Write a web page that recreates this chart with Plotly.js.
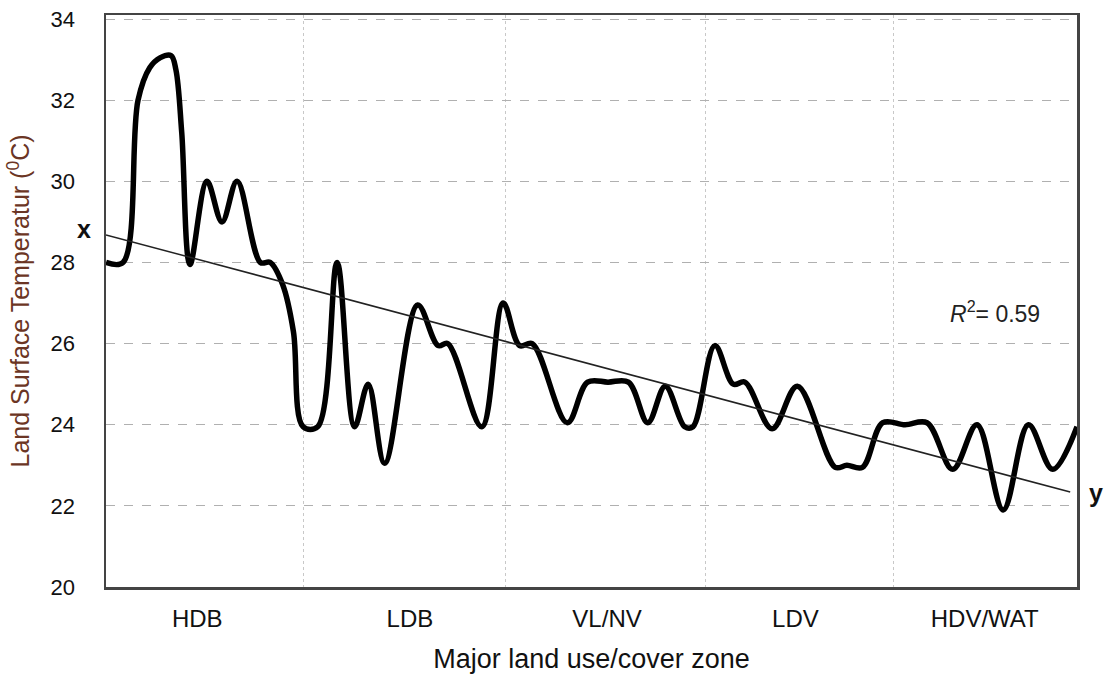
<!DOCTYPE html>
<html>
<head>
<meta charset="utf-8">
<script src="https://cdn.plot.ly/plotly-3.0.1.min.js"></script>
<style>html,body{margin:0;padding:0;background:#fff;}#chart{width:1105px;height:676px;}</style>
</head>
<body>
<div id="chart"></div>
<script>
// Position along the transect (0-100) and land surface temperature (°C)
const position = [0.0, 1.75, 3.3, 4.5, 5.6, 6.7, 7.2, 7.8, 8.65, 10.4, 11.95, 13.5, 15.9, 16.9, 18.2, 19.3, 20.3, 21.8, 23.8, 25.6, 27.0, 28.7, 32.1, 34.2, 35.2, 38.7, 40.9, 42.6, 43.9, 47.5, 49.6, 51.7, 53.8, 55.8, 57.6, 59.6, 60.45, 62.7, 64.6, 65.8, 68.6, 71.2, 75.1, 76.3, 77.9, 80.0, 82.3, 84.55, 87.2, 89.7, 92.4, 95.0, 97.5, 100.0];
const temperature = [28.0, 28.0, 32.0, 32.8, 33.05, 33.1, 32.75, 31.2, 27.95, 30.0, 29.0, 30.0, 28.0, 28.0, 27.45, 26.3, 23.95, 23.95, 28.0, 23.95, 25.0, 23.05, 26.95, 25.95, 26.0, 23.95, 27.0, 25.95, 26.0, 24.05, 25.05, 25.05, 25.05, 24.05, 24.95, 23.95, 23.95, 25.95, 25.0, 25.05, 23.9, 24.95, 22.95, 23.0, 22.95, 24.05, 24.0, 24.05, 22.9, 24.0, 21.9, 24.0, 22.9, 23.95];
// Linear trend (R² = 0.59)
const trendX = [0, 99.3];
const trendY = [28.68, 22.34];
// Zones
const zoneLabels = ['HDB', 'LDB', 'VL/NV', 'LDV', 'HDV/WAT'];
const zoneCenters = [9.4, 31.3, 51.6, 71.0, 90.5];
const zoneBounds = [20.3, 41.1, 61.7, 81.1];
const yTicks = [20, 22, 24, 26, 28, 30, 32, 34];

const font = 'Liberation Sans, Arial, sans-serif';

const traces = [
  {x: position, y: temperature, type: 'scatter', mode: 'lines',
   line: {color: '#000', width: 5.5, shape: 'spline', smoothing: 1}, hoverinfo: 'skip'},
  {x: trendX, y: trendY, type: 'scatter', mode: 'lines',
   line: {color: '#222', width: 1.5}, hoverinfo: 'skip'}
];

const layout = {
  width: 1105, height: 676,
  margin: {l: 106, r: 28, t: 15, b: 89},
  paper_bgcolor: '#fff', plot_bgcolor: '#fff',
  showlegend: false,
  font: {family: font, color: '#111', size: 20},
  xaxis: {
    range: [0, 100], fixedrange: true,
    tickmode: 'array', tickvals: zoneCenters, ticktext: zoneLabels,
    ticks: '', showgrid: false, zeroline: false,
    showline: true, mirror: true, linecolor: '#444', linewidth: 2.5,
    ticklabelstandoff: 9,
    tickfont: {family: font, size: 24, color: '#111'},
    minor: {tickmode: 'array', tickvals: zoneBounds, showgrid: true, griddash: 'dot', gridcolor: '#c8c8c8', gridwidth: 1, ticks: ''},
    title: {text: 'Major land use/cover zone', font: {family: font, size: 27, color: '#111'}, standoff: 18}
  },
  yaxis: {
    range: [20, 34.1], fixedrange: true,
    tickmode: 'array', tickvals: yTicks,
    ticks: '', showgrid: true, griddash: 'dash', gridcolor: '#b0b0b0', gridwidth: 1,
    zeroline: false,
    showline: true, mirror: true, linecolor: '#444', linewidth: 2.5,
    ticklabelstandoff: 24,
    tickfont: {family: font, size: 22, color: '#111'},
    title: {text: 'Land Surface Temperatur (<sup>0</sup>C)', font: {family: font, size: 25, color: '#6b3524'}, standoff: 14}
  },
  annotations: [
    {x: -0.0227, y: 0.626, xref: 'paper', yref: 'paper', xanchor: 'center', yanchor: 'middle', text: '<b>x</b>', showarrow: false, font: {family: font, size: 25, color: '#111'}},
    {x: 1.0196, y: 0.164, xref: 'paper', yref: 'paper', xanchor: 'center', yanchor: 'middle', text: '<b>y</b>', showarrow: false, font: {family: font, size: 25, color: '#111'}},
    {x: 0.9155, y: 0.481, xref: 'paper', yref: 'paper', xanchor: 'center', yanchor: 'middle', text: '<i>R</i><sup>2</sup>= 0.59', showarrow: false, font: {family: font, size: 23, color: '#222'}}
  ]
};

Plotly.newPlot('chart', traces, layout, {displayModeBar: false, staticPlot: true});
</script>
</body>
</html>
